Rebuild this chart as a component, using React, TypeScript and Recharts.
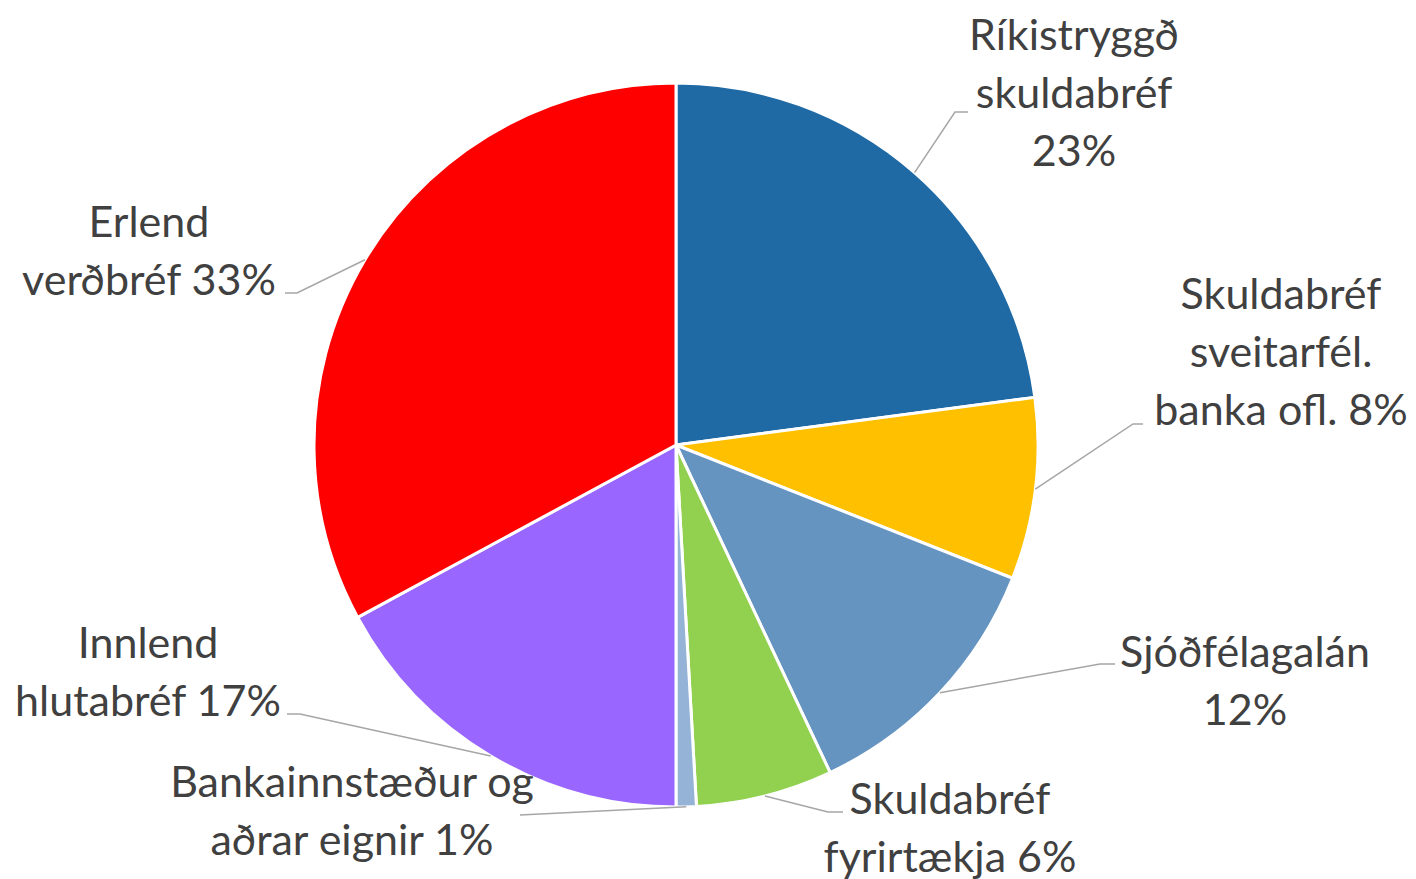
import React from "react";
import { PieChart, Pie, Cell } from "recharts";

// categories (label text split into lines) and their shares in %
const categories = [
  ["Ríkistryggð", "skuldabréf"],
  ["Skuldabréf", "sveitarfél.", "banka ofl."],
  ["Sjóðfélagalán"],
  ["Skuldabréf", "fyrirtækja"],
  ["Bankainnstæður og", "aðrar eignir"],
  ["Innlend", "hlutabréf"],
  ["Erlend", "verðbréf"],
];
const shares = [22.9, 8.1, 12.0, 6.1, 0.9, 17.1, 32.9];
const colors = ["#1F6AA5", "#FFC000", "#6694C1", "#92D050", "#95B3D7", "#9966FF", "#FF0000"];

// label placement: elbow of the leader line, end of its short tail, text centre and first line
const labelLayout = [
  { ex: 955, ey: 112, hx: 968, tx: 1074, ty: 33, pctOwnLine: true },
  { ex: 1133, ey: 424, hx: 1143, tx: 1281, ty: 292, pctOwnLine: false },
  { ex: 1100, ey: 664, hx: 1115, tx: 1245, ty: 650, pctOwnLine: true },
  { ex: 828, ey: 812, hx: 843, tx: 950, ty: 797, pctOwnLine: false },
  { ex: 520, ey: 815, hx: 520, tx: 352, ty: 780, pctOwnLine: false },
  { ex: 300, ey: 714, hx: 287, tx: 148, ty: 641, pctOwnLine: false },
  { ex: 297, ey: 293, hx: 285, tx: 149, ty: 220, pctOwnLine: false },
];

const data = categories.map((lines, i) => ({
  name: lines.join(" "),
  value: shares[i],
}));

const RAD = Math.PI / 180;
const LINE_H = 58;

const renderLabel = (props: any) => {
  const { cx, cy, midAngle, outerRadius, index } = props;
  const sx = cx + outerRadius * Math.cos(-midAngle * RAD);
  const sy = cy + outerRadius * Math.sin(-midAngle * RAD);
  const l = labelLayout[index];
  const pct = `${Math.round(shares[index])}%`;
  const lines = [...categories[index]];
  if (l.pctOwnLine) lines.push(pct);
  else lines[lines.length - 1] = `${lines[lines.length - 1]} ${pct}`;
  return (
    <g key={`lbl-${index}`}>
      <polyline
        points={`${sx},${sy} ${l.ex},${l.ey} ${l.hx},${l.ey}`}
        fill="none"
        stroke="#A6A6A6"
        strokeWidth={1.5}
      />
      <text
        x={l.tx}
        y={l.ty}
        textAnchor="middle"
        dominantBaseline="central"
        fill="#404040"
        fontSize={43}
        fontFamily="Lato, 'Noto Sans', sans-serif"
      >
        {lines.map((t, k) => (
          <tspan key={k} x={l.tx} y={l.ty + k * LINE_H}>
            {t}
          </tspan>
        ))}
      </text>
    </g>
  );
};

export default function App() {
  return (
    <div style={{ position: "absolute", left: 0, top: 0, width: 1416, height: 879, background: "#fff" }}>
      <PieChart width={1416} height={879} margin={{ top: 0, right: 0, bottom: 0, left: 0 }}>
        <Pie
          data={data}
          dataKey="value"
          nameKey="name"
          cx={676}
          cy={445}
          outerRadius={362}
          startAngle={90}
          endAngle={-270}
          stroke="#FFFFFF"
          strokeWidth={3}
          label={renderLabel}
          labelLine={false}
          isAnimationActive={false}
        >
          {data.map((d, i) => (
            <Cell key={d.name} fill={colors[i]} />
          ))}
        </Pie>
      </PieChart>
    </div>
  );
}
